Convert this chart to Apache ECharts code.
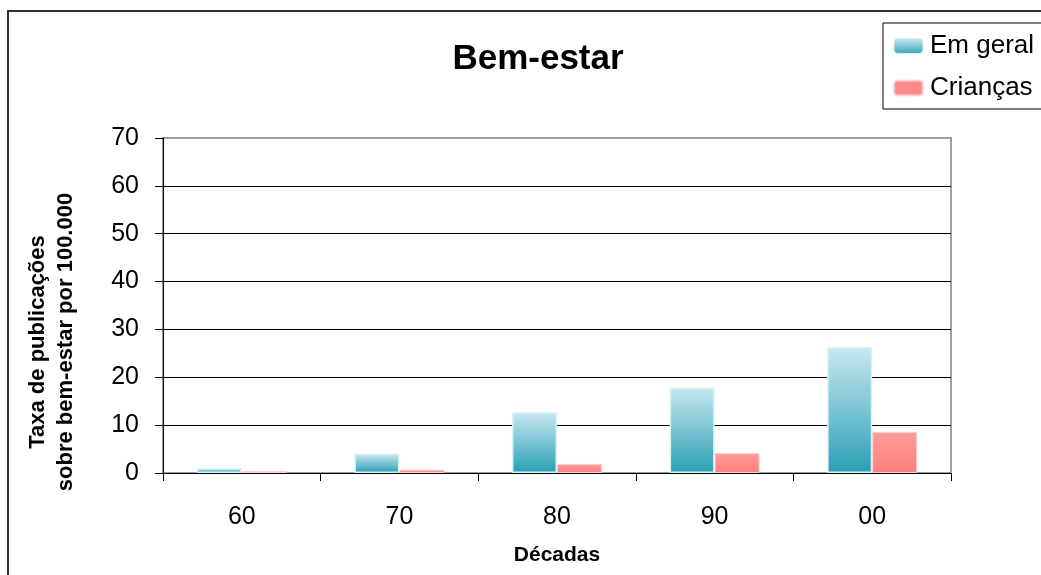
<!DOCTYPE html>
<html>
<head>
<meta charset="utf-8">
<script src="https://cdn.jsdelivr.net/npm/echarts@6/dist/echarts.min.js"></script>
<style>
  html, body { margin: 0; padding: 0; background: #fff; }
  #chart { width: 1041px; height: 575px; }
</style>
</head>
<body>
<div id="chart"></div>
<script>
// Décadas e taxas de publicações por 100.000
const decadas = ['60', '70', '80', '90', '00'];
const emGeral = [1.0, 4.0, 12.7, 17.8, 26.3];
const criancas = [0.4, 0.7, 1.9, 4.2, 8.6];
const tituloY = 'Taxa de publicações\nsobre bem-estar por 100.000';

const chart = echarts.init(document.getElementById('chart'));
const font = '"Liberation Sans", Arial, sans-serif';

const blueFill = new echarts.graphic.LinearGradient(0, 0, 0, 1, [
  { offset: 0, color: '#c8e8f0' },
  { offset: 1, color: '#2a9fb5' }
]);
const pinkFill = new echarts.graphic.LinearGradient(0, 0, 0, 1, [
  { offset: 0, color: '#ff9c9c' },
  { offset: 1, color: '#ff7e7e' }
]);

chart.setOption({
  animation: false,
  backgroundColor: '#fff',
  title: {
    text: 'Bem-estar',
    left: 533,
    textAlign: 'center',
    top: 37,
    textStyle: { fontFamily: font, fontSize: 35, fontWeight: 'bold', color: '#000' }
  },
  legend: {
    orient: 'vertical',
    left: 883,
    top: 23,
    padding: [10, 40, 8, 10],
    itemGap: 16,
    itemWidth: 29,
    itemHeight: 15,
    borderColor: '#000',
    borderWidth: 1,
    textStyle: { fontFamily: font, fontSize: 26, color: '#000', padding: [0, 0, 0, 2] },
    data: [
      { name: 'Em geral', itemStyle: { color: new echarts.graphic.LinearGradient(0, 0, 0, 1, [
        { offset: 0, color: '#c8e8f0' }, { offset: 1, color: '#3aa6b9' }]), borderColor: '#d6f0f6', borderWidth: 1 } },
      { name: 'Crianças', itemStyle: { color: '#ff8a8a' } }
    ]
  },
  grid: {
    left: 163, top: 138, width: 788, height: 335,
    show: true, borderColor: '#a0a0a0', borderWidth: 2, backgroundColor: 'transparent'
  },
  xAxis: {
    type: 'category',
    data: decadas,
    name: 'Décadas',
    nameLocation: 'middle',
    nameGap: 72,
    nameTextStyle: { fontFamily: font, fontSize: 21, fontWeight: 'bold', color: '#000' },
    axisLine: { lineStyle: { color: '#000', width: 1 } },
    axisTick: { show: true, length: 8, lineStyle: { color: '#000' } },
    axisLabel: { fontFamily: font, fontSize: 25, color: '#000', margin: 32 }
  },
  yAxis: {
    type: 'value',
    min: 0, max: 70, interval: 10,
    axisLine: { show: true, lineStyle: { color: '#000', width: 1 } },
    axisTick: { show: true, length: 8, lineStyle: { color: '#000' } },
    axisLabel: { fontFamily: font, fontSize: 25, color: '#000', margin: 24 },
    splitLine: { showMaxLine: false, lineStyle: { color: '#000', width: 1 } }
  },
  series: [
    {
      name: 'Em geral',
      type: 'bar',
      data: emGeral,
      barWidth: 45,
      barGap: '0%',
      itemStyle: { color: blueFill, borderColor: '#d6f0f6', borderWidth: 1.5 }
    },
    {
      name: 'Crianças',
      type: 'bar',
      data: criancas,
      barWidth: 45,
      barGap: '0%',
      itemStyle: { color: pinkFill, borderColor: '#ffd0d0', borderWidth: 1 }
    }
  ],
  graphic: [
    {
      type: 'rect',
      shape: { x: 8, y: 11, width: 1100, height: 600 },
      style: { fill: 'none', stroke: '#333', lineWidth: 2 },
      silent: true,
      z: -1
    },
    {
      type: 'text',
      x: 52,
      y: 342,
      rotation: Math.PI / 2,
      style: {
        text: tituloY,
        fontFamily: font,
        fontSize: 22,
        fontWeight: 'bold',
        lineHeight: 28,
        fill: '#000',
        align: 'center',
        verticalAlign: 'middle'
      }
    }
  ]
});
</script>
</body>
</html>
